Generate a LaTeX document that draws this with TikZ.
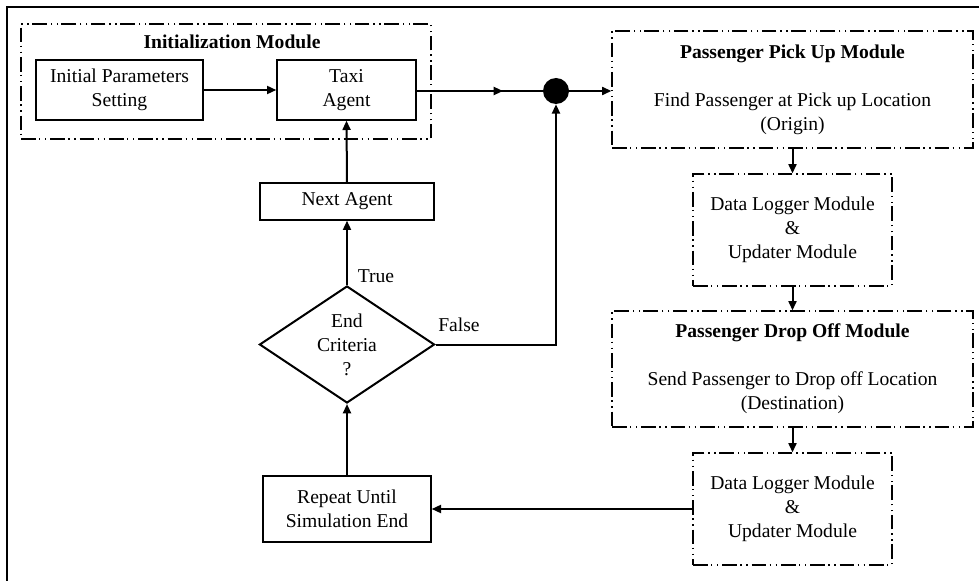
\documentclass[tikz,border=0pt]{standalone}
\usepackage{fontspec}
\setmainfont{Liberation Serif}
\usetikzlibrary{shapes.geometric,arrows.meta,decorations.markings}
\begin{document}
\begin{tikzpicture}[x=0.75pt,y=-0.75pt,
  every node/.style={font=\fontsize{14.7pt}{18pt}\selectfont, align=center, inner sep=0pt},
  solidbox/.style={draw, line width=1pt, rectangle},
  modbox/.style={draw, line width=0.9pt, rectangle,
    dash pattern=on 11pt off 2.5pt on 1pt off 3.5pt on 1pt off 3pt},
  conn/.style={line width=1.5pt},
  arrow/.style={conn, -{Triangle[length=7pt,width=6pt]}},
  midarrow/.style={conn, postaction={decorate},
    decoration={markings, mark=at position #1 with {\arrow{Triangle[length=7pt,width=6pt]}}}},
  lbl/.style={font=\fontsize{14.7pt}{18pt}\selectfont}
]
\useasboundingbox (0,0) rectangle (979,581);

% outer frame (top and left edges)
\draw[line width=1.7pt] (7,581) -- (7,7) -- (979,7);

% initialization module
\node[modbox, minimum width=410*0.75pt, minimum height=115*0.75pt] (initmod) at (226,81.5) {};
\node (inittitle) at (232,42) {\textbf{Initialization Module}};
\node[solidbox, minimum width=167*0.75pt, minimum height=60*0.75pt] (params) at (119.5,90)
  {Initial Parameters\\Setting};
\node[solidbox, minimum width=139*0.75pt, minimum height=60*0.75pt] (taxi) at (346.5,90)
  {Taxi\\Agent};

% junction
\node[circle, fill=black, minimum size=26*0.75pt] (junc) at (556,91) {};

% right column modules
\node[modbox, minimum width=361*0.75pt, minimum height=117*0.75pt] (pickup) at (792.5,89.5)
  {\textbf{Passenger Pick Up Module}\\[18pt]Find Passenger at Pick up Location\\(Origin)};
\node[modbox, minimum width=199*0.75pt, minimum height=112*0.75pt] (logA) at (792.5,230)
  {Data Logger Module\\\&\\Updater Module};
\node[modbox, minimum width=361*0.75pt, minimum height=116*0.75pt] (dropoff) at (792.5,369)
  {\textbf{Passenger Drop Off Module}\\[18pt]Send Passenger to Drop off Location\\(Destination)};
\node[modbox, minimum width=199*0.75pt, minimum height=112*0.75pt] (logB) at (792.5,509)
  {Data Logger Module\\\&\\Updater Module};

% left column
\node[solidbox, minimum width=168*0.75pt, minimum height=66*0.75pt] (repeat) at (347,509)
  {Repeat Until\\Simulation End};
\node[diamond, draw, line width=1.5pt, minimum width=175*0.75pt, minimum height=117*0.75pt] (crit) at (347,344.5) {};
\node (critlbl) at (347,345) {End\\Criteria\\?};
\node[solidbox, minimum width=174*0.75pt, minimum height=37*0.75pt] (next) at (347,201.5) {Next Agent};

% connectors
\draw[arrow] (params.east) -- (taxi.west);
\draw[midarrow=0.685] (taxi.east |- junc) -- (junc.west);
\draw[arrow] (junc.east) -- (junc.east -| pickup.west);
\draw[arrow] (pickup.south) -- (logA.north);
\draw[arrow] (logA.south) -- (dropoff.north);
\draw[arrow] (dropoff.south) -- (logB.north);
\draw[arrow] (logB.west |- repeat) -- (repeat.east);
\draw[arrow] (repeat.north) -- (crit.south);
\draw[arrow] (crit.north) -- (next.south);
\draw[arrow] (next.north) -- (taxi.south);
\draw[arrow] (crit.east) -| (junc.south);

% branch labels
\node[lbl] (truelbl) at (376,276) {True};
\node[lbl] (falselbl) at (459,325) {False};
\end{tikzpicture}
\end{document}
